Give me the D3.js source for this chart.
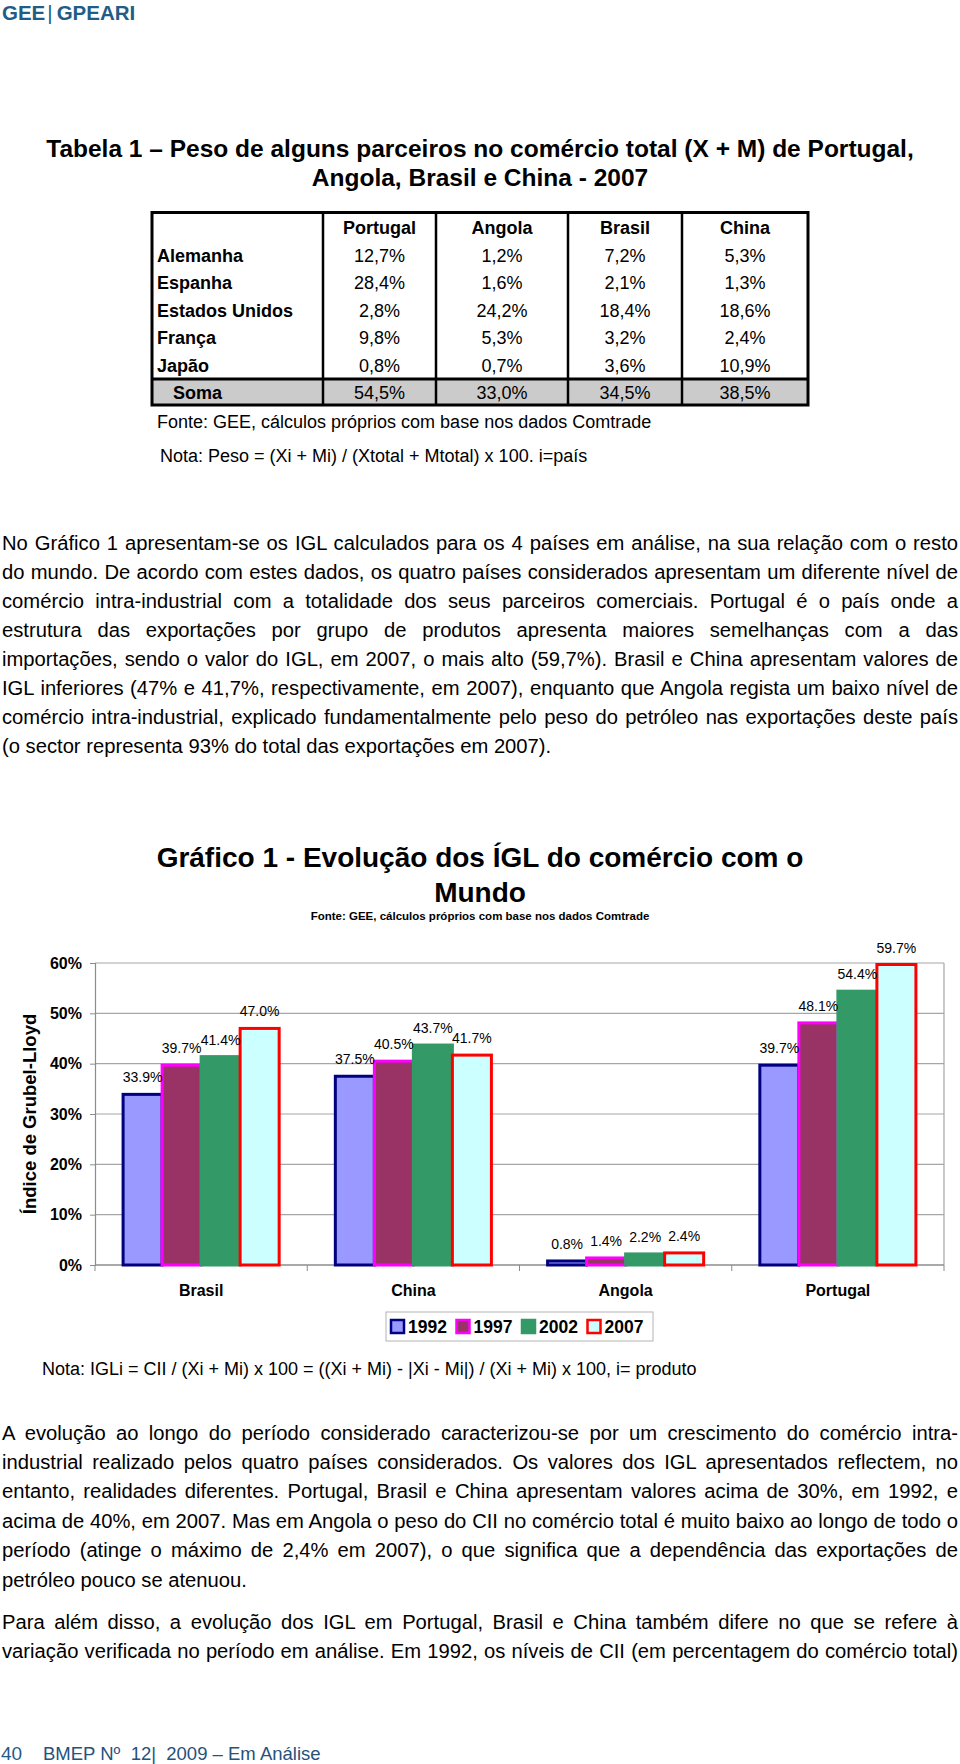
<!DOCTYPE html>
<html>
<head>
<meta charset="utf-8">
<script src="https://cdn.jsdelivr.net/npm/d3@7"></script>
<style>
  body { margin: 0; background: #fff; }
  #page { position: relative; width: 960px; height: 1764px; overflow: hidden; font-family: "Liberation Sans", Arial, sans-serif; }
  #page svg { position: absolute; left: 0; top: 0; }
  .line { position: absolute; left: 2px; width: 956px; line-height: 29px; white-space: nowrap;
          text-align: justify; text-align-last: justify; color: #000; }
  .line.last { text-align-last: left; }
</style>
</head>
<body>
<div id="page"><svg id="svg" width="960" height="1764"></svg></div>
<script>
// chart data (IGL, %)
const categories = ['Brasil', 'China', 'Angola', 'Portugal']
const years = ['1992', '1997', '2002', '2007']
const igl1992 = [33.9, 37.5, 0.8, 39.7]
const igl1997 = [39.7, 40.5, 1.4, 48.1]
const igl2002 = [41.4, 43.7, 2.2, 54.4]
const igl2007 = [47.0, 41.7, 2.4, 59.7]
const yTicks = [0, 10, 20, 30, 40, 50, 60]

// table data (peso %, 2007)
const tableCountries = ['Portugal', 'Angola', 'Brasil', 'China']
const tablePartners = ['Alemanha', 'Espanha', 'Estados Unidos', 'França', 'Japão']
const pesoPortugal = [12.7, 28.4, 2.8, 9.8, 0.8]
const pesoAngola = [1.2, 1.6, 24.2, 5.3, 0.7]
const pesoBrasil = [7.2, 2.1, 18.4, 3.2, 3.6]
const pesoChina = [5.3, 1.3, 18.6, 2.4, 10.9]

const para1 = [
  'No Gráfico 1 apresentam-se os IGL calculados para os 4 países em análise, na sua relação com o resto',
  'do mundo. De acordo com estes dados, os quatro países considerados apresentam um diferente nível de',
  'comércio intra-industrial com a totalidade dos seus parceiros comerciais. Portugal é o país onde a',
  'estrutura das exportações por grupo de produtos apresenta maiores semelhanças com a das',
  'importações, sendo o valor do IGL, em 2007, o mais alto (59,7%). Brasil e China apresentam valores de',
  'IGL inferiores (47% e 41,7%, respectivamente, em 2007), enquanto que Angola regista um baixo nível de',
  'comércio intra-industrial, explicado fundamentalmente pelo peso do petróleo nas exportações deste país',
  '(o sector representa 93% do total das exportações em 2007).'
]
const para2 = [
  'A evolução ao longo do período considerado caracterizou-se por um crescimento do comércio intra-',
  'industrial realizado pelos quatro países considerados. Os valores dos IGL apresentados reflectem, no',
  'entanto, realidades diferentes. Portugal, Brasil e China apresentam valores acima de 30%, em 1992, e',
  'acima de 40%, em 2007. Mas em Angola o peso do CII no comércio total é muito baixo ao longo de todo o',
  'período (atinge o máximo de 2,4% em 2007), o que significa que a dependência das exportações de',
  'petróleo pouco se atenuou.'
]
const para3 = [
  'Para além disso, a evolução dos IGL em Portugal, Brasil e China também difere no que se refere à',
  'variação verificada no período em análise. Em 1992, os níveis de CII (em percentagem do comércio total)'
]

const seriesFill = ['#9999ff', '#993366', '#339966', '#ccffff']
const seriesStroke = ['#000080', '#ff00ff', '#339966', '#ff0000']

const svg = d3.select('#svg')
const page = d3.select('#page')
const pct = v => v.toFixed(1).replace('.', ',') + '%'

// header / footer
const head = svg.append('text').attr('x', 2).attr('y', 19.5)
  .style('font-size', '20.5px').style('fill', '#1f5d87')
head.append('tspan').text('GEE').style('font-weight', 'bold')
head.append('tspan').text('|').attr('dx', 2).style('font-weight', 'normal')
head.append('tspan').text('GPEARI').attr('dx', 4).style('font-weight', 'bold')

svg.append('text').attr('x', 1).attr('y', 1760).text('40')
  .style('font-size', '19px').style('fill', '#1f5d87')
svg.append('text').attr('x', 43).attr('y', 1760).text('BMEP Nº  12|  2009 – Em Análise')
  .attr('xml:space', 'preserve').style('white-space', 'pre')
  .style('font-size', '18.5px').style('fill', '#26527c')

// table title
svg.selectAll('.ttitle').data(['Tabela 1 – Peso de alguns parceiros no comércio total (X + M) de Portugal,', 'Angola, Brasil e China - 2007'])
  .join('text').attr('class', 'ttitle')
  .attr('x', 480).attr('y', (d, i) => 157 + i * 28.5)
  .attr('text-anchor', 'middle')
  .style('font-size', '24.5px').style('font-weight', 'bold')
  .text(d => d)

// table
const colEdges = [152, 323, 436, 568, 682, 808]
const rowY = d3.scaleBand().domain(d3.range(6)).range([214, 379])
const sumTop = 379, tableBottom = 405
const tableCols = [pesoPortugal, pesoAngola, pesoBrasil, pesoChina]
const table = svg.append('g')

table.append('rect').attr('x', colEdges[0]).attr('y', sumTop)
  .attr('width', colEdges[5] - colEdges[0]).attr('height', tableBottom - sumTop).style('fill', '#cbcbcb')

const cellFont = '18px'
table.selectAll('.hdr').data(tableCountries).join('text')
  .attr('x', (d, i) => (colEdges[i + 1] + colEdges[i + 2]) / 2)
  .attr('y', rowY(0) + rowY.bandwidth() / 2 + 6.5)
  .attr('text-anchor', 'middle').style('font-size', cellFont).style('font-weight', 'bold')
  .text(d => d)

table.selectAll('.partner').data(tablePartners).join('text')
  .attr('x', 157).attr('y', (d, i) => rowY(i + 1) + rowY.bandwidth() / 2 + 6.5)
  .style('font-size', cellFont).style('font-weight', 'bold')
  .text(d => d)

tableCols.forEach((col, ci) => {
  const cx = (colEdges[ci + 1] + colEdges[ci + 2]) / 2
  table.append('g').selectAll('text').data(col).join('text')
    .attr('x', cx).attr('y', (d, i) => rowY(i + 1) + rowY.bandwidth() / 2 + 6.5)
    .attr('text-anchor', 'middle').style('font-size', cellFont)
    .text(d => pct(d))
  table.append('text').attr('x', cx).attr('y', (sumTop + tableBottom) / 2 + 6.5)
    .attr('text-anchor', 'middle').style('font-size', cellFont)
    .text(pct(d3.sum(col)))
})
table.append('text').attr('x', 173).attr('y', (sumTop + tableBottom) / 2 + 6.5)
  .style('font-size', cellFont).style('font-weight', 'bold').text('Soma')

table.append('rect').attr('x', colEdges[0]).attr('y', 212.5)
  .attr('width', colEdges[5] - colEdges[0]).attr('height', tableBottom - 212.5)
  .style('fill', 'none').style('stroke', '#000').style('stroke-width', 3)
table.selectAll('.vline').data(colEdges.slice(1, 5)).join('line')
  .attr('x1', d => d).attr('x2', d => d).attr('y1', 212.5).attr('y2', tableBottom)
  .style('stroke', '#000').style('stroke-width', 2.5)
table.append('line').attr('x1', colEdges[0]).attr('x2', colEdges[5]).attr('y1', sumTop).attr('y2', sumTop)
  .style('stroke', '#000').style('stroke-width', 3)

svg.append('text').attr('x', 157).attr('y', 428)
  .style('font-size', '18px').text('Fonte: GEE, cálculos próprios com base nos dados Comtrade')
svg.append('text').attr('x', 160).attr('y', 461.5)
  .style('font-size', '18px').text('Nota: Peso = (Xi + Mi) / (Xtotal + Mtotal) x 100. i=país')

// paragraphs: pick the size at which the tightest justified line just fits
const ctx = document.createElement('canvas').getContext('2d')
ctx.font = '19px "Liberation Sans"'
const widest = d3.max(para1.concat(para2, para3).filter(l => l.length > 60), l => ctx.measureText(l).width)
const bodySize = Math.min(20.5, 19 * 954 / widest)

function writeLines(lines, startY, step, justifyLast) {
  page.selectAll(null).data(lines).join('div')
    .attr('class', (d, i) => 'line' + (i === lines.length - 1 && !justifyLast ? ' last' : ''))
    .style('font-size', bodySize + 'px')
    .style('top', (d, i) => (startY + i * step - 14.5) + 'px')
    .text(d => d)
}
writeLines(para1, 543, 29.1, false)
writeLines(para2, 1433, 29.4, false)
writeLines(para3, 1622.5, 29.4, true)

// chart
const plot = { left: 95, right: 944, top: 963, bottom: 1265 }
const x0 = d3.scaleBand().domain(categories).range([plot.left, plot.right])
const x1 = d3.scaleBand().domain(years).range([0, x0.bandwidth()]).paddingOuter(0.72)
const y = d3.scaleLinear().domain([0, 60]).range([plot.bottom, plot.top])

svg.selectAll('.ctitle').data(['Gráfico 1 - Evolução dos ÍGL do comércio com o', 'Mundo'])
  .join('text').attr('class', 'ctitle')
  .attr('x', 480).attr('y', (d, i) => 867 + i * 35)
  .attr('text-anchor', 'middle')
  .style('font-size', '28px').style('font-weight', 'bold')
  .text(d => d)
svg.append('text').attr('x', 480).attr('y', 920).attr('text-anchor', 'middle')
  .style('font-size', '11.5px').style('font-weight', 'bold')
  .text('Fonte: GEE, cálculos próprios com base nos dados Comtrade')

// grid
svg.append('g').selectAll('line').data(yTicks.filter(t => t > 0)).join('line')
  .attr('x1', plot.left).attr('x2', plot.right)
  .attr('y1', d => y(d)).attr('y2', d => y(d))
  .style('stroke', '#a6a6a6').style('stroke-width', 1.2)
svg.append('line').attr('x1', plot.right).attr('x2', plot.right).attr('y1', plot.top).attr('y2', plot.bottom)
  .style('stroke', '#a6a6a6').style('stroke-width', 1.2)

// y axis
const yAxis = svg.append('g').attr('transform', `translate(${plot.left},0)`)
  .call(d3.axisLeft(y).tickValues(yTicks).tickSize(5).tickPadding(8).tickFormat(d => d + '%'))
yAxis.select('.domain').style('stroke', '#8c8c8c').style('stroke-width', 1.2)
yAxis.selectAll('.tick line').style('stroke', '#8c8c8c')
yAxis.selectAll('.tick text')
  .style('font-family', '"Liberation Sans", Arial, sans-serif')
  .style('font-size', '16px').style('font-weight', 'bold').style('fill', '#000')

svg.append('text').attr('transform', 'translate(36,1114) rotate(-90)')
  .attr('text-anchor', 'middle').style('font-size', '18.5px').style('font-weight', 'bold')
  .text('Índice de Grubel-Lloyd')

// x axis
svg.append('line').attr('x1', plot.left).attr('x2', plot.right).attr('y1', plot.bottom).attr('y2', plot.bottom)
  .style('stroke', '#8c8c8c').style('stroke-width', 1.5)
svg.append('g').selectAll('line').data(categories.map(c => x0(c)).concat([plot.right])).join('line')
  .attr('x1', d => d).attr('x2', d => d).attr('y1', plot.bottom).attr('y2', plot.bottom + 6)
  .style('stroke', '#8c8c8c')
svg.append('g').selectAll('text').data(categories).join('text')
  .attr('x', d => x0(d) + x0.bandwidth() / 2).attr('y', 1296)
  .attr('text-anchor', 'middle').style('font-size', '16px').style('font-weight', 'bold')
  .text(d => d)

// bars
const seriesValues = [igl1992, igl1997, igl2002, igl2007]
const bars = svg.append('g')
years.forEach((yr, si) => {
  const g = bars.append('g')
  g.selectAll('rect').data(seriesValues[si]).join('rect')
    .attr('x', (d, i) => x0(categories[i]) + x1(yr))
    .attr('y', d => y(d))
    .attr('width', x1.bandwidth())
    .attr('height', d => y(0) - y(d))
    .style('fill', seriesFill[si])
    .style('stroke', seriesStroke[si])
    .style('stroke-width', 3)
})
years.forEach((yr, si) => {
  bars.append('g').selectAll('text').data(seriesValues[si]).join('text')
    .attr('x', (d, i) => x0(categories[i]) + x1(yr) + x1.bandwidth() / 2)
    .attr('y', d => y(d) - 12)
    .attr('text-anchor', 'middle').style('font-size', '14px')
    .text(d => d.toFixed(1) + '%')
})

// legend
const legend = svg.append('g')
legend.append('rect').attr('x', 386).attr('y', 1312).attr('width', 267).attr('height', 29)
  .style('fill', '#fff').style('stroke', '#b4b4b4')
const item = legend.selectAll('g').data(years).join('g')
  .attr('transform', (d, i) => `translate(${391 + i * 65.5},1326.5)`)
item.append('rect').attr('x', 0).attr('y', -6.5).attr('width', 13).attr('height', 13)
  .style('fill', (d, i) => seriesFill[i]).style('stroke', (d, i) => seriesStroke[i]).style('stroke-width', 2.5)
item.append('text').attr('x', 17).attr('y', 6.5)
  .style('font-size', '17.5px').style('font-weight', 'bold').text(d => d)

svg.append('text').attr('x', 42).attr('y', 1375)
  .style('font-size', '18px')
  .text('Nota: IGLi = CII / (Xi + Mi) x 100 = ((Xi + Mi) - |Xi - Mi|) / (Xi + Mi) x 100, i= produto')

svg.selectAll('text').style('font-family', '"Liberation Sans", Arial, sans-serif')
</script>
</body>
</html>
